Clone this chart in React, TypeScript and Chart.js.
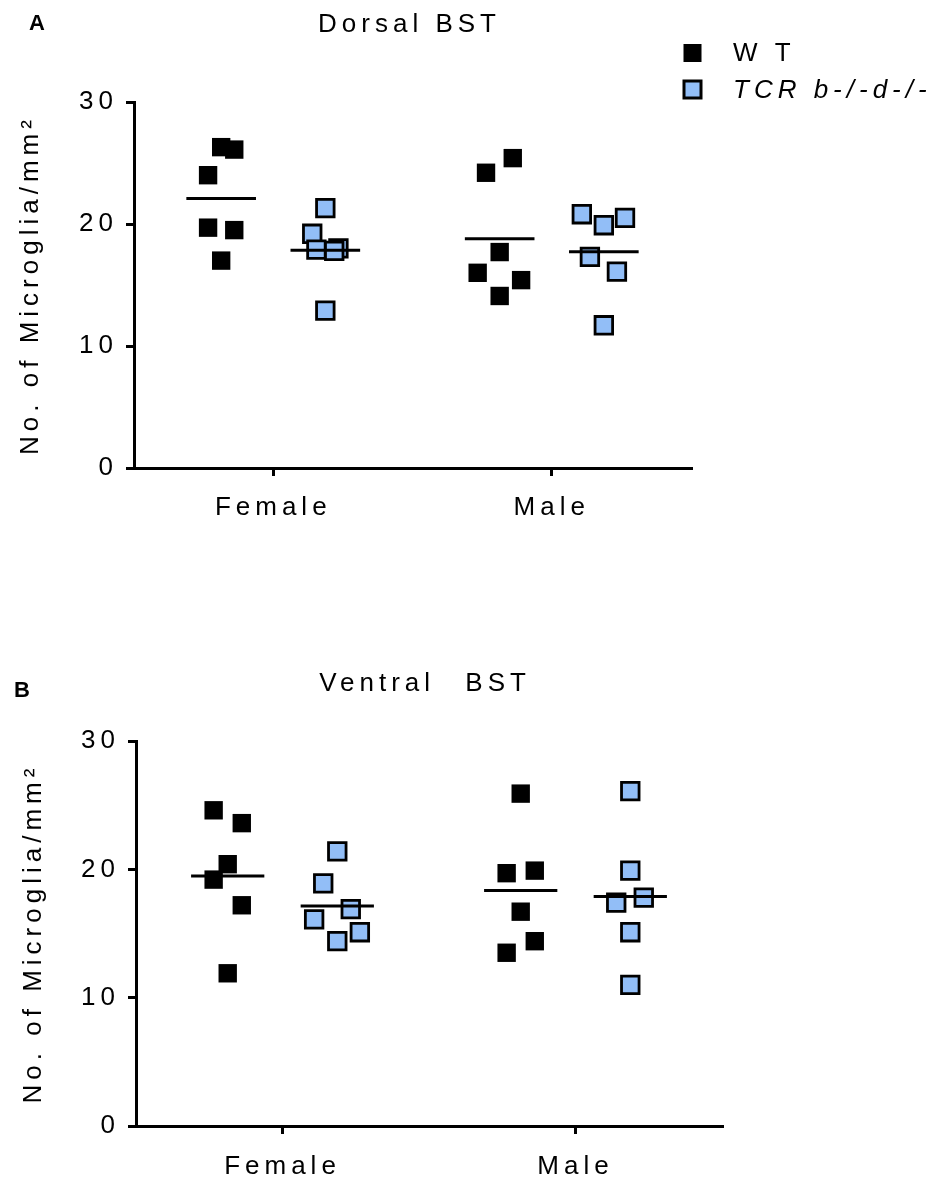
import React, { useEffect, useRef } from 'react';
import { Chart, registerables } from 'chart.js';

Chart.register(...registerables);

const FONT = '"Liberation Sans", Arial, Helvetica, sans-serif';

// ---------- data ----------
const categories = ['Female', 'Male'];
const yTickValues = [0, 10, 20, 30];
const seriesNames = ['W T', 'TCR b-/-d-/-'];
const yAxisTitle = 'No. of Microglia/mm²';
const panelTitles = ['Dorsal BST', 'Ventral BST'];
const panelLetters = ['A', 'B'];

// Dorsal BST
const dorsalWTFemale = [26.3, 26.1, 24.0, 19.7, 19.5, 17.0];
const dorsalWTMale = [25.4, 24.2, 17.7, 16.0, 15.4, 14.1];
const dorsalKOFemale = [21.3, 19.2, 18.0, 17.9, 17.8, 12.9];
const dorsalKOMale = [20.8, 19.9, 20.5, 17.3, 16.1, 11.7];

// Ventral BST
const ventralWTFemale = [24.6, 23.6, 20.4, 19.2, 17.2, 11.9];
const ventralWTMale = [25.9, 19.7, 19.9, 16.7, 14.4, 13.5];
const ventralKOFemale = [21.4, 18.9, 16.9, 16.1, 15.1, 14.4];
const ventralKOMale = [26.1, 19.9, 17.4, 17.8, 15.1, 11.0];

// ---------- layout (horizontal scatter of points within a group, category units) ----------
const dorsalWTFemaleJitter = [0, 0.047, -0.047, -0.047, 0.047, 0];
const dorsalWTMaleJitter = [0.047, -0.049, 0, -0.079, 0.077, 0];
const dorsalKOFemaleJitter = [0, -0.047, 0.047, -0.032, 0.032, 0];
const dorsalKOMaleJitter = [-0.079, 0, 0.076, -0.05, 0.047, 0];
const ventralWTFemaleJitter = [-0.048, 0.048, 0, -0.048, 0.048, 0];
const ventralWTMaleJitter = [0, -0.048, 0.048, 0, 0.048, -0.048];
const ventralKOFemaleJitter = [0, -0.048, 0.046, -0.079, 0.077, 0];
const ventralKOMaleJitter = [0, 0, -0.048, 0.046, 0, 0];

const GROUP_OFFSET = 0.187;
const MEAN_HALF = 0.125;
const LETTER_SPACING = '5px';
const WT_COLOR = '#000000';
const KO_COLOR = '#92BEF7';

type Panel = {
  wt: number[][];
  ko: number[][];
  wtJ: number[][];
  koJ: number[][];
  title: string;
  letter: string;
  top: number;
  height: number;
  area: { left: number; right: number; top: number; bottom: number };
  letterPos: [number, number];
  titleY: number;
  titleDX: number;
  titleWordSpacing: string;
  yTitlePad: number;
  xTickPad: number;
  legend: boolean;
};

const panels: Panel[] = [
  {
    wt: [dorsalWTFemale, dorsalWTMale],
    ko: [dorsalKOFemale, dorsalKOMale],
    wtJ: [dorsalWTFemaleJitter, dorsalWTMaleJitter],
    koJ: [dorsalKOFemaleJitter, dorsalKOMaleJitter],
    title: panelTitles[0],
    letter: panelLetters[0],
    top: 0,
    height: 560,
    area: { left: 134, right: 691, top: 102, bottom: 468 },
    letterPos: [29, 30],
    titleY: 32,
    titleDX: -3,
    titleWordSpacing: '0px',
    yTitlePad: 15,
    xTickPad: 16,
    legend: true,
  },
  {
    wt: [ventralWTFemale, ventralWTMale],
    ko: [ventralKOFemale, ventralKOMale],
    wtJ: [ventralWTFemaleJitter, ventralWTMaleJitter],
    koJ: [ventralKOFemaleJitter, ventralKOMaleJitter],
    title: panelTitles[1],
    letter: panelLetters[1],
    top: 600,
    height: 580,
    area: { left: 136, right: 722, top: 141, bottom: 526 },
    letterPos: [14, 97],
    titleY: 91,
    titleDX: -4,
    titleWordSpacing: '18px',
    yTitlePad: 18,
    xTickPad: 17,
    legend: false,
  },
];

const mean = (a: number[]) => a.reduce((s, v) => s + v, 0) / a.length;

const spacingPlugin = {
  id: 'letterSpacing',
  beforeUpdate(chart: any) {
    chart.ctx.letterSpacing = LETTER_SPACING;
  },
  beforeLayout(chart: any) {
    chart.ctx.letterSpacing = LETTER_SPACING;
  },
  beforeDraw(chart: any) {
    chart.ctx.letterSpacing = LETTER_SPACING;
  },
};

const textPlugin = {
  id: 'panelText',
  afterDraw(chart: any, _args: any, opts: any) {
    const ctx = chart.ctx;
    const ca = chart.chartArea;
    ctx.save();
    ctx.fillStyle = '#000';
    ctx.letterSpacing = '0px';
    ctx.font = `bold 22px ${FONT}`;
    ctx.textAlign = 'left';
    ctx.textBaseline = 'alphabetic';
    ctx.fillText(opts.letter, opts.letterPos[0], opts.letterPos[1]);

    ctx.letterSpacing = LETTER_SPACING;
    ctx.wordSpacing = opts.titleWordSpacing;
    ctx.font = `26px ${FONT}`;
    ctx.textAlign = 'center';
    ctx.fillText(opts.title, (ca.left + ca.right) / 2 + opts.titleDX, opts.titleY);
    ctx.wordSpacing = '0px';

    if (opts.legend) {
      const mx = ca.right + 1.5;
      const items = [
        { name: seriesNames[0], y: 53, fill: WT_COLOR, stroke: false, italic: false },
        { name: seriesNames[1], y: 89.5, fill: KO_COLOR, stroke: true, italic: true },
      ];
      items.forEach((it) => {
        if (it.stroke) {
          ctx.fillStyle = it.fill;
          ctx.fillRect(mx - 8.5, it.y - 8.5, 17, 17);
          ctx.strokeStyle = '#000';
          ctx.lineWidth = 3;
          ctx.strokeRect(mx - 8.5, it.y - 8.5, 17, 17);
        } else {
          ctx.fillStyle = it.fill;
          ctx.fillRect(mx - 9, it.y - 9, 18, 18);
        }
        ctx.fillStyle = '#000';
        ctx.textAlign = 'left';
        ctx.textBaseline = 'middle';
        ctx.font = `${it.italic ? 'italic ' : ''}26px ${FONT}`;
        ctx.fillText(it.name, ca.right + 42, it.y + 1);
      });
    }
    ctx.restore();
  },
};

function buildConfig(p: Panel, width: number): any {
  const font = { family: FONT, size: 26 };
  const datasets: any[] = [];
  // mean lines (drawn on top)
  categories.forEach((_, ci) => {
    [
      { vals: p.wt[ci], off: -GROUP_OFFSET },
      { vals: p.ko[ci], off: GROUP_OFFSET },
    ].forEach((g) => {
      const m = mean(g.vals);
      datasets.push({
        data: [
          { x: ci + g.off - MEAN_HALF, y: m },
          { x: ci + g.off + MEAN_HALF, y: m },
        ],
        showLine: true,
        borderColor: '#000',
        borderWidth: 3,
        pointRadius: 0,
        order: 0,
        clip: false,
      });
    });
  });
  const pts = (groups: number[][], jit: number[][], off: number) =>
    groups.flatMap((vals, ci) => vals.map((v, i) => ({ x: ci + off + jit[ci][i], y: v })));
  datasets.push({
    label: seriesNames[0],
    data: pts(p.wt, p.wtJ, -GROUP_OFFSET),
    pointStyle: 'rect',
    pointRadius: 13,
    backgroundColor: WT_COLOR,
    borderColor: WT_COLOR,
    borderWidth: 0,
    order: 1,
    clip: false,
  });
  datasets.push({
    label: seriesNames[1],
    data: pts(p.ko, p.koJ, GROUP_OFFSET),
    pointStyle: 'rect',
    pointRadius: 12.4,
    backgroundColor: KO_COLOR,
    borderColor: '#000',
    borderWidth: 2.8,
    order: 1,
    clip: false,
  });

  const axisGrid = {
    display: true,
    drawOnChartArea: false,
    drawTicks: true,
    tickLength: 8,
    tickWidth: 3,
    tickColor: '#000',
    color: '#000',
    lineWidth: 3,
  };
  const border = { display: true, color: '#000', width: 3 };

  return {
    type: 'scatter',
    data: { datasets },
    plugins: [spacingPlugin, textPlugin],
    options: {
      responsive: false,
      animation: false,
      events: [],
      layout: {
        padding: { left: 0, top: p.area.top, right: width - p.area.right, bottom: 0 },
      },
      plugins: {
        legend: { display: false },
        tooltip: { enabled: false },
        title: { display: false },
        panelText: {
          letter: p.letter,
          letterPos: p.letterPos,
          title: p.title,
          titleY: p.titleY,
          titleDX: p.titleDX,
          titleWordSpacing: p.titleWordSpacing,
          legend: p.legend,
        },
      },
      scales: {
        x: {
          type: 'linear',
          min: -0.5,
          max: 1.5,
          afterBuildTicks: (s: any) => {
            s.ticks = categories.map((_, i) => ({ value: i }));
          },
          afterFit: (s: any) => {
            s.height = p.height - p.area.bottom;
          },
          ticks: {
            callback: (_v: any, i: number) => categories[i],
            font,
            color: '#000',
            padding: p.xTickPad,
            autoSkip: false,
            maxRotation: 0,
          },
          grid: axisGrid,
          border,
        },
        y: {
          type: 'linear',
          min: 0,
          max: 30,
          afterBuildTicks: (s: any) => {
            s.ticks = yTickValues.map((v) => ({ value: v }));
          },
          afterFit: (s: any) => {
            s.width = p.area.left;
          },
          ticks: { font, color: '#000', padding: 8 },
          grid: axisGrid,
          border,
          title: {
            display: true,
            text: yAxisTitle,
            font,
            color: '#000',
            padding: { top: p.yTitlePad, bottom: 0 },
          },
        },
      },
    },
  };
}

function PanelChart({ p }: { p: Panel }) {
  const ref = useRef<HTMLCanvasElement | null>(null);
  const width = 937;
  useEffect(() => {
    if (!ref.current) return;
    const chart = new Chart(ref.current, buildConfig(p, width));
    return () => chart.destroy();
  }, [p]);
  return (
    <div style={{ position: 'absolute', left: 0, top: p.top, width, height: p.height }}>
      <canvas ref={ref} width={width} height={p.height} style={{ display: 'block' }} />
    </div>
  );
}

export default function App() {
  return (
    <div
      style={{
        position: 'absolute',
        left: 0,
        top: 0,
        width: 937,
        height: 1180,
        background: '#fff',
        overflow: 'hidden',
      }}
    >
      {panels.map((p, i) => (
        <PanelChart key={i} p={p} />
      ))}
    </div>
  );
}
